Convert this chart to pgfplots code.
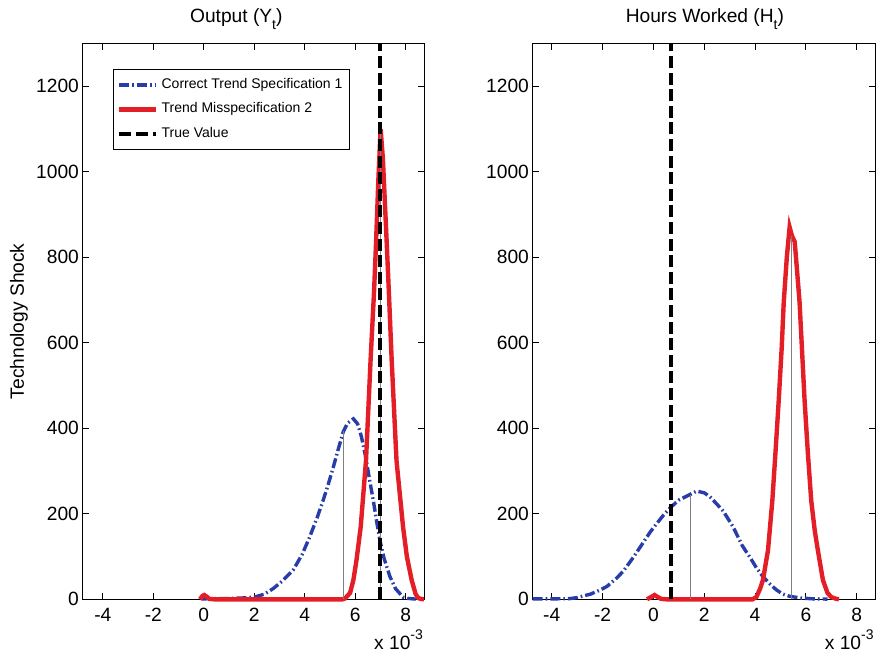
\documentclass[border=0pt]{standalone}
\usepackage{pgfplots}
\pgfplotsset{compat=1.18}
\usepackage{fontspec}
\setmainfont{Liberation Sans}
\definecolor{mblue}{RGB}{40,60,170}
\definecolor{mred}{RGB}{228,30,38}
\newcommand\sub[1]{\raisebox{-3.5pt}{\fontsize{7}{8}\selectfont #1}}
\newcommand\sups[1]{\raisebox{4.7pt}{\fontsize{7}{8}\selectfont #1}}
\pgfplotsset{
  panel/.style={
    scale only axis,
    height=278pt,
    ymin=0, ymax=1300,
    ytick={0,200,...,1200}, yticklabels={0,200,400,600,800,1000,1200},
    xtick={-4,-2,0,2,4,6,8}, xticklabels={-4,-2,0,2,4,6,8},
    tick align=inside, major tick length=3.2pt,
    tick style={black, line width=0.5pt},
    axis line style={line width=0.5pt},
    ticklabel style={font=\fontsize{9.6}{11}\selectfont},
    yticklabel style={inner xsep=1.7pt},
    xticklabel style={inner ysep=4.2pt},
    label style={font=\fontsize{9.6}{11}\selectfont},
    clip=false,
    legend image code/.code={\draw[#1] (0pt,0pt) -- (18.5pt,0pt);},
  },
  bl/.style={mblue, line width=1.7pt, dash pattern=on 5pt off 1.5pt on 0.8pt off 1.5pt},
  rd/.style={mred, line width=2.2pt},
  tv/.style={black, line width=2pt, dash pattern=on 6pt off 2.3pt},
  gl/.style={gray, line width=0.5pt, forget plot},
}
\begin{document}
\begin{tikzpicture}
\path[use as bounding box] (0,0) rectangle (438.5pt,329pt);
% ---------------- Left panel ----------------
\begin{axis}[panel,
  at={(41.35pt,29.35pt)}, anchor=south west,
  width=170.65pt,
  xmin=-4.8, xmax=8.73,
  ylabel={Technology Shock},
  ylabel style={at={(axis description cs:-0.1866,0.5)}, anchor=center},
  legend style={at={(axis description cs:0.088,0.954)}, anchor=north west,
    draw=black, line width=0.5pt, font=\fontsize{7}{8.4}\selectfont,
    inner xsep=2pt, inner ysep=3pt, row sep=2.8pt,
    nodes={inner sep=1.5pt, text height=5pt, text depth=1.5pt}},
  legend cell align=left,
]
\addplot[bl] coordinates {
(-0.1,1) (0.5,1.5) (1.0,2) (1.5,3) (2.0,5) (2.4,12) (2.75,25) (3.1,42)
(3.54,68) (3.9,105) (4.2,146) (4.5,192) (4.73,231) (4.95,272) (5.13,308)
(5.35,355) (5.53,392) (5.7,412) (5.93,422) (6.1,410) (6.25,380) (6.42,332)
(6.57,280) (6.72,231) (6.85,183) (6.98,138) (7.15,95) (7.38,53) (7.6,25)
(7.9,5) (8.1,2) (8.4,0.5)};
\addlegendentry{Correct Trend Specification 1}
\addplot[rd] coordinates {
(-0.15,0) (-0.05,8) (0.02,10) (0.12,6) (0.22,1) (0.4,0) (2.0,0) (4.0,0) (5.5,0)
(5.6,2) (5.8,15) (5.93,45) (6.05,90) (6.22,169) (6.43,324) (6.61,557)
(6.75,720) (6.83,836) (6.92,980) (7.01,1099) (7.1,1030) (7.25,836)
(7.35,700) (7.45,557) (7.64,324) (7.9,169) (8.05,100) (8.24,45) (8.4,12)
(8.5,3) (8.6,1) (8.73,0)};
\addlegendentry{Trend Misspecification 2}
\addplot[gl] coordinates {(5.53,0) (5.53,394)};
\addplot[gl] coordinates {(7.01,0) (7.01,1099)};
\addplot[tv] coordinates {(7.0,0) (7.0,1300)};
\addlegendentry{True Value}
\node[anchor=base, inner sep=0pt, font=\fontsize{9.6}{11}\selectfont]
  at (axis description cs:0.45,1.037) {Output (Y\sub{t})};
\node[anchor=base east, inner sep=0pt, font=\fontsize{9.6}{11}\selectfont]
  at (axis description cs:0.998,-0.0894) {x 10\sups{-3}};
\end{axis}
% ---------------- Right panel ----------------
\begin{axis}[panel,
  at={(266.35pt,29.35pt)}, anchor=south west,
  width=171.15pt,
  xmin=-4.75, xmax=8.72,
]
\addplot[bl] coordinates {
(-4.75,1) (-4.0,1) (-3.3,1.5) (-3.0,4) (-2.48,12) (-2.09,22) (-1.83,30)
(-1.44,50) (-1.18,66) (-0.78,99) (-0.52,122) (-0.13,157) (0.13,177)
(0.4,197) (0.68,215) (1.0,232) (1.44,245) (1.7,253) (2.0,249) (2.22,240)
(2.49,223) (2.75,206) (3.14,169) (3.27,153) (3.5,125) (3.79,99) (4.05,74)
(4.31,53) (4.6,35) (4.84,22) (5.1,12) (5.36,7) (5.8,3) (6.3,1) (6.85,0.5)};
\addplot[rd] coordinates {
(-0.25,0) (-0.1,5) (0.05,10) (0.15,6) (0.3,1) (0.5,0) (2.0,0) (3.9,0)
(4.05,5) (4.2,25) (4.31,45) (4.51,115) (4.68,231) (4.8,340) (4.93,464)
(5.05,590) (5.13,696) (5.25,800) (5.36,870) (5.45,850) (5.56,836)
(5.65,770) (5.75,696) (5.85,580) (5.95,464) (6.08,340) (6.21,231)
(6.35,160) (6.47,115) (6.67,45) (6.85,15) (7.0,5) (7.2,1) (7.3,0)};
\addplot[gl] coordinates {(1.44,0) (1.44,245)};
\addplot[gl] coordinates {(5.43,0) (5.43,850)};
\addplot[tv] coordinates {(0.68,0) (0.68,1300)};
\node[anchor=base, inner sep=0pt, font=\fontsize{9.6}{11}\selectfont]
  at (axis description cs:0.503,1.037) {Hours Worked (H\sub{t})};
\node[anchor=base east, inner sep=0pt, font=\fontsize{9.6}{11}\selectfont]
  at (axis description cs:0.997,-0.0894) {x 10\sups{-3}};
\end{axis}
\end{tikzpicture}
\end{document}
